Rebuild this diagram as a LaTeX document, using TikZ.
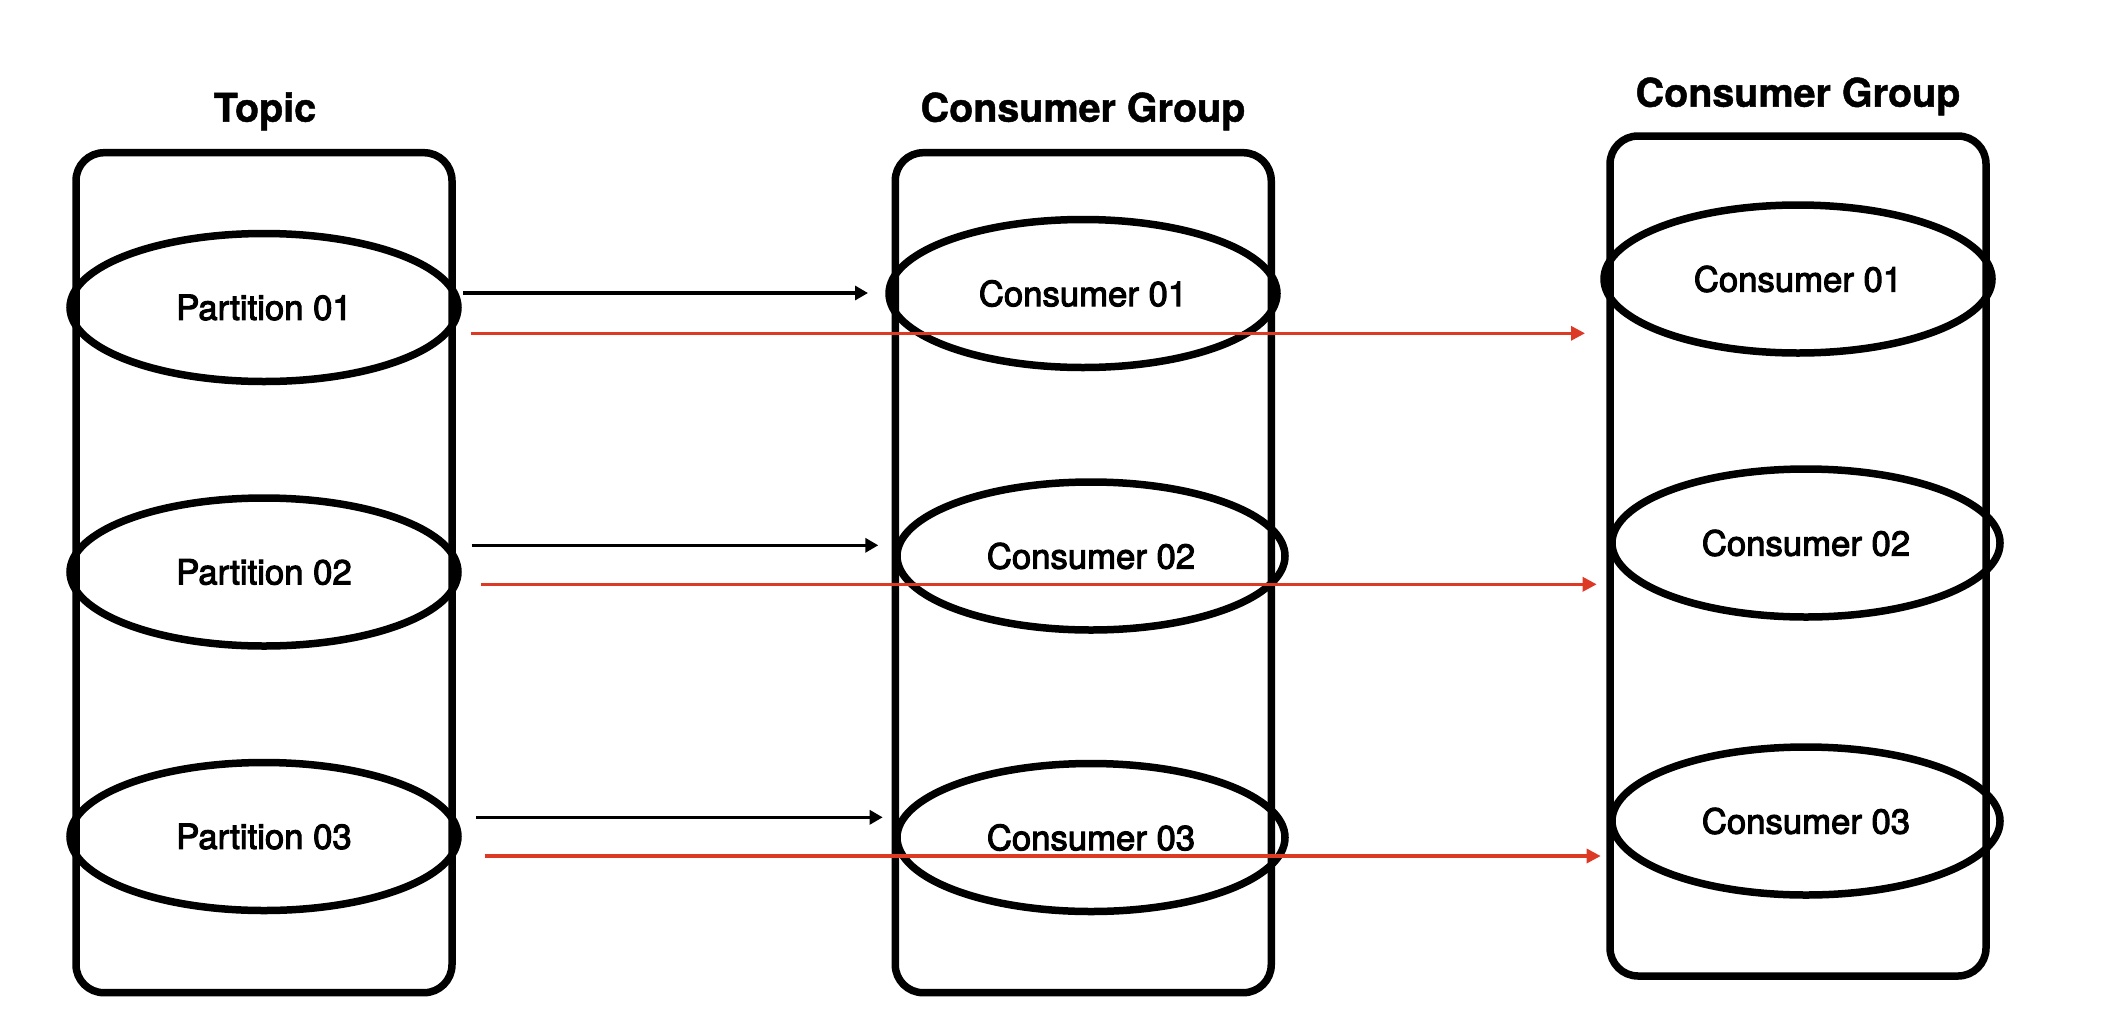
\documentclass[tikz,border=0pt]{standalone}
\usepackage{fontspec}
\setmainfont{TeX Gyre Heros}
\newfontfamily\itemfont[FakeBold=3]{TeX Gyre Heros}
\newfontfamily\titlefont[FakeBold=1.2]{TeX Gyre Heros Bold}
\usetikzlibrary{arrows.meta,shapes.geometric}
\definecolor{arrred}{RGB}{221,58,38}
\tikzset{
  grpbox/.style={draw=black, line width=7.5pt, rounded corners=28pt, minimum width=376pt, minimum height=840pt, inner sep=0pt, outer sep=0pt},
  item/.style={draw=black, ellipse, line width=7.5pt, minimum width=388pt, minimum height=148pt, inner sep=0pt, outer sep=0pt, font=\itemfont\fontsize{34.7}{40}\selectfont},
  title/.style={anchor=base, inner sep=0pt, font=\titlefont\fontsize{39.5}{46}\selectfont},
  blkarrow/.style={line width=3.2pt, black, -{Triangle[length=13pt,width=14pt]}},
  redarrow/.style={line width=3.2pt, arrred, -{Triangle[length=14pt,width=14pt]}}
}
\begin{document}
\begin{tikzpicture}[x=1pt, y=-1pt]
\useasboundingbox (0,0) rectangle (2106,1034);
% group boxes
\node[grpbox] (topic) at (264,572.7) {};
\node[grpbox] (cga) at (1083.25,572.7) {};
\node[grpbox] (cgb) at (1798,556) {};
% titles
\node[title] (ttopic) at (265,121.7) {Topic};
\node[title] (tcga) at (1083,121.7) {Consumer Group};
\node[title] (tcgb) at (1798,106.7) {Consumer Group};
% partitions
\node[item] (p1) at (264,307.5) {Partition 01};
\node[item] (p2) at (264,572) {Partition 02};
\node[item] (p3) at (264,836.5) {Partition 03};
% consumers group A
\node[item] (c1) at (1083,293.5) {Consumer 01};
\node[item] (c2) at (1091,556) {Consumer 02};
\node[item] (c3) at (1091,837.5) {Consumer 03};
% consumers group B
\node[item] (d1) at (1798,279) {Consumer 01};
\node[item] (d2) at (1806,543) {Consumer 02};
\node[item] (d3) at (1806,821) {Consumer 03};
% arrows
\draw[blkarrow] ([shift={(5,-14.5)}]p1.east) -- ([shift={(-21,-0.5)}]c1.west);
\draw[redarrow] ([shift={(13,25.8)}]p1.east) -- ([shift={(-19,54.3)}]d1.west);
\draw[blkarrow] ([shift={(13.7,-26.7)}]p2.east) -- ([shift={(-18.7,-10.7)}]c2.west);
\draw[redarrow] ([shift={(22.7,12.3)}]p2.east) -- ([shift={(-15.3,41.3)}]d2.west);
\draw[blkarrow] ([shift={(18,-19.2)}]p3.east) -- ([shift={(-14.3,-20.2)}]c3.west);
\draw[redarrow] ([shift={(27,19.5)}]p3.east) -- ([shift={(-11.3,35)}]d3.west);
\end{tikzpicture}
\end{document}
